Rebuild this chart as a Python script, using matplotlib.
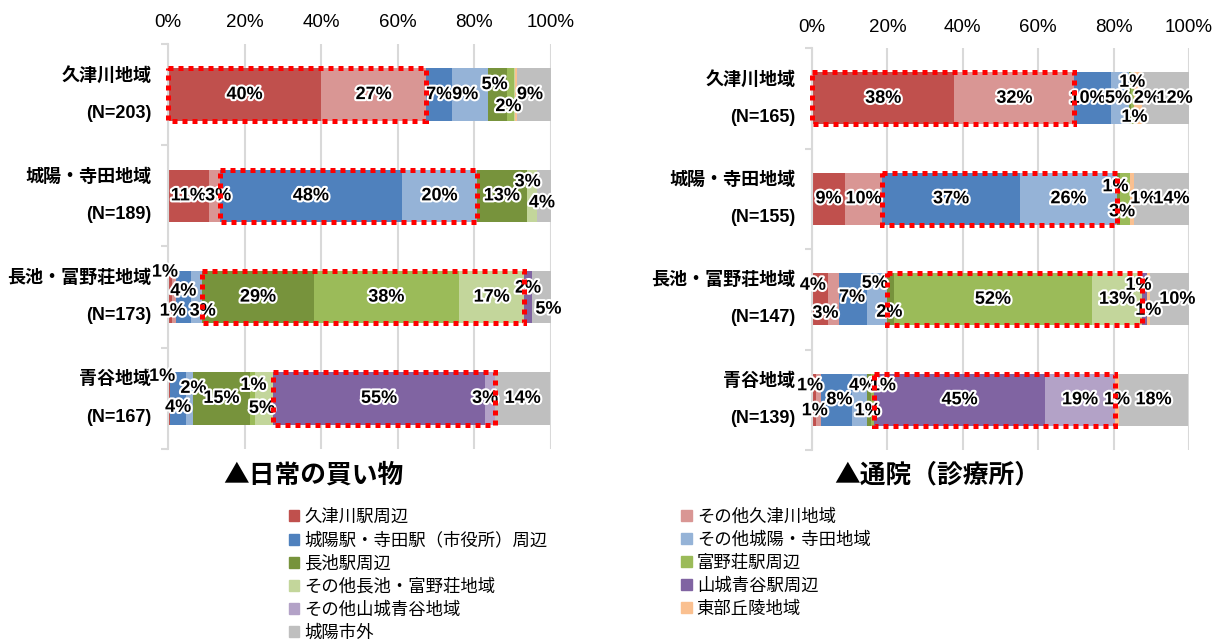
import matplotlib
matplotlib.use("Agg")
import matplotlib.pyplot as plt
import matplotlib.patheffects as pe
from matplotlib.patches import Rectangle, Patch
import numpy as np

plt.rcParams['font.family'] = ['Liberation Sans', 'Noto Sans CJK JP', 'DejaVu Sans']

# 地域（行）
regions = ['久津川地域', '城陽・寺田地域', '長池・富野荘地域', '青谷地域']
n_shop = [203, 189, 173, 167]
n_clinic = [165, 155, 147, 139]

# 目的地（系列）
series = ['久津川駅周辺', 'その他久津川地域', '城陽駅・寺田駅（市役所）周辺', 'その他城陽・寺田地域',
          '長池駅周辺', '富野荘駅周辺', 'その他長池・富野荘地域', '山城青谷駅周辺',
          'その他山城青谷地域', '東部丘陵地域', '城陽市外']
colors = ['#C0504D', '#D99694', '#4F81BD', '#95B3D7', '#77933C', '#9BBB59',
          '#C3D69B', '#8064A2', '#B3A2C7', '#FAC090', '#BFBFBF']

# 日常の買い物 (%)
shop_kutsukawa = [40.0, 27.4, 6.8, 9.4, 4.9, 1.8, 0.4, 0, 0, 0.4, 8.9]
shop_joyo = [10.6, 2.9, 47.6, 19.6, 12.9, 0, 2.7, 0, 0, 0, 3.7]
shop_naga = [1, 1, 4, 3, 29, 38, 17, 2, 0, 0, 5]
shop_aodani = [0.6, 0, 4.1, 1.8, 14.9, 1.3, 4.7, 55.4, 2.6, 0, 14.4]

# 通院（診療所） (%)
clinic_kutsukawa = [37.8, 31.8, 9.7, 4.8, 0.6, 0.6, 0, 0, 0, 2.3, 12.4]
clinic_joyo = [8.8, 9.8, 36.6, 25.7, 0.8, 2.7, 0, 0, 0, 1.1, 14.4]
clinic_naga = [4.2, 3.0, 7.4, 5.2, 2.0, 52.4, 13.4, 1.2, 0, 0.8, 10.4]
clinic_aodani = [1.1, 1.4, 8.0, 4.0, 1.2, 0.8, 0, 45.3, 18.6, 1.0, 18.4]

# 赤枠で囲む系列（行ごと）
box_series = [(0, 1), (2, 3), (4, 6), (7, 8)]

# 小さいラベルのずらし (px, 右・下が正)
shop_offsets = {
    (0, 3): (-5, 0), (0, 4): (-3, -10), (0, 5): (-2, 12), (0, 10): (-4, 0),
    (1, 1): (4, 0), (1, 6): (-4, -14), (1, 10): (-2, 7),
    (2, 0): (-5, -25), (2, 1): (-1, 14), (2, 2): (0, -6), (2, 3): (6, 14),
    (2, 7): (0, -9), (2, 10): (7, 12),
    (3, 0): (-7, -22), (3, 2): (0, 9), (3, 3): (4, -10), (3, 5): (1, -13),
    (3, 6): (-2, 10), (3, 8): (-5, 0),
}
clinic_offsets = {
    (0, 2): (-5, 0), (0, 3): (-2, 0), (0, 4): (2, -16), (0, 5): (2, 19),
    (0, 9): (9, 0), (0, 10): (9, 0),
    (1, 4): (-3, -12), (1, 5): (-3, 13), (1, 9): (11, 0), (1, 10): (10, 0),
    (2, 0): (-7, -14), (2, 1): (-8, 14), (2, 2): (-1, -2), (2, 3): (-2, -16),
    (2, 4): (-1, 13), (2, 7): (-6, -14), (2, 9): (0, 11), (2, 10): (8, 0),
    (3, 0): (-4, -14), (3, 1): (-4, 11), (3, 2): (3, 0), (3, 3): (3, -14),
    (3, 4): (14, -14), (3, 5): (-5, 11),
}

fig = plt.figure(figsize=(12.21, 6.44), dpi=100)
ax1 = fig.add_axes([0.1376, 0.3028, 0.3137, 0.6289])
ax2 = fig.add_axes([0.6650, 0.3012, 0.3088, 0.6242])

bar_h = 0.52
stroke = [pe.withStroke(linewidth=3, foreground='white')]


def draw(ax, rows, ns, offsets):
    data = np.array(rows, dtype=float)
    y = np.arange(len(rows))
    left = np.zeros(len(rows))
    for j in range(data.shape[1]):
        ax.barh(y, data[:, j], left=left, height=bar_h, color=colors[j], zorder=2)
        for i in range(len(rows)):
            v = data[i, j]
            if v >= 0.5:
                dx, dy = offsets.get((i, j), (0, 0))
                ax.annotate(f'{v:.0f}%', (left[i] + v / 2, y[i]), xytext=(dx, -dy),
                            textcoords='offset pixels', ha='center', va='center',
                            fontsize=13, fontweight='bold', color='black',
                            path_effects=stroke, zorder=4, annotation_clip=False)
        left = left + data[:, j]
    cum = np.cumsum(np.hstack([np.zeros((len(rows), 1)), data]), axis=1)
    for i, (a, b) in enumerate(box_series):
        x0, x1 = cum[i, a], cum[i, b + 1]
        ax.add_patch(Rectangle((x0, y[i] - bar_h / 2), x1 - x0, bar_h, fill=False,
                               ec='#FF0000', lw=3.6, ls=(0, (1, 1)), zorder=5, clip_on=False))
    ax.set_xlim(0, 100)
    ax.set_ylim(len(rows) - 0.5, -0.5)
    ax.set_xticks(np.arange(0, 101, 20))
    ax.set_xticklabels([f'{t}%' for t in range(0, 101, 20)])
    ax.xaxis.tick_top()
    ax.tick_params(axis='x', length=0, pad=9, labelsize=13.5)
    ax.set_yticks(y)
    ax.set_yticklabels([f'{r}\n({"N=" + str(n)})' for r, n in zip(regions, ns)],
                       fontweight='bold', fontsize=13, linespacing=2.55)
    for t in ax.get_yticklabels():
        t.set_va('center')
    ax.tick_params(axis='y', length=0, pad=12)
    ax.set_yticks(np.arange(-0.5, len(rows)), minor=True)
    ax.tick_params(axis='y', which='minor', length=5, color='#D9D9D9', width=1.5)
    ax.grid(axis='x', color='#D9D9D9', lw=1.5, zorder=0)
    for s in ['top', 'right', 'bottom']:
        ax.spines[s].set_visible(False)
    ax.spines['left'].set_color('#D9D9D9')
    ax.spines['left'].set_linewidth(1.5)


draw(ax1, [shop_kutsukawa, shop_joyo, shop_naga, shop_aodani], n_shop, shop_offsets)
draw(ax2, [clinic_kutsukawa, clinic_joyo, clinic_naga, clinic_aodani], n_clinic, clinic_offsets)

fig.text(313 / 1221, 1 - 475 / 644, '▲日常の買い物', ha='center', va='center',
         fontsize=18.5, fontweight='bold', family=['Noto Sans CJK JP', 'DejaVu Sans'])
fig.text(937 / 1221, 1 - 475 / 644, '▲通院（診療所）', ha='center', va='center',
         fontsize=18.5, fontweight='bold', family=['Noto Sans CJK JP', 'DejaVu Sans'])

handles = [Patch(color=c, label=s) for c, s in zip(colors, series)]
order = [0, 2, 4, 6, 8, 10, 1, 3, 5, 7, 9]
fig.legend([handles[k] for k in order], [series[k] for k in order], ncol=2,
           loc='upper left', bbox_to_anchor=(273 / 1221, 1 - 493 / 644),
           frameon=False, fontsize=12.5, handlelength=0.6, handleheight=0.6,
           handletextpad=0.3, labelspacing=0.38, columnspacing=7.7)

fig.savefig('out.png', dpi=100)
